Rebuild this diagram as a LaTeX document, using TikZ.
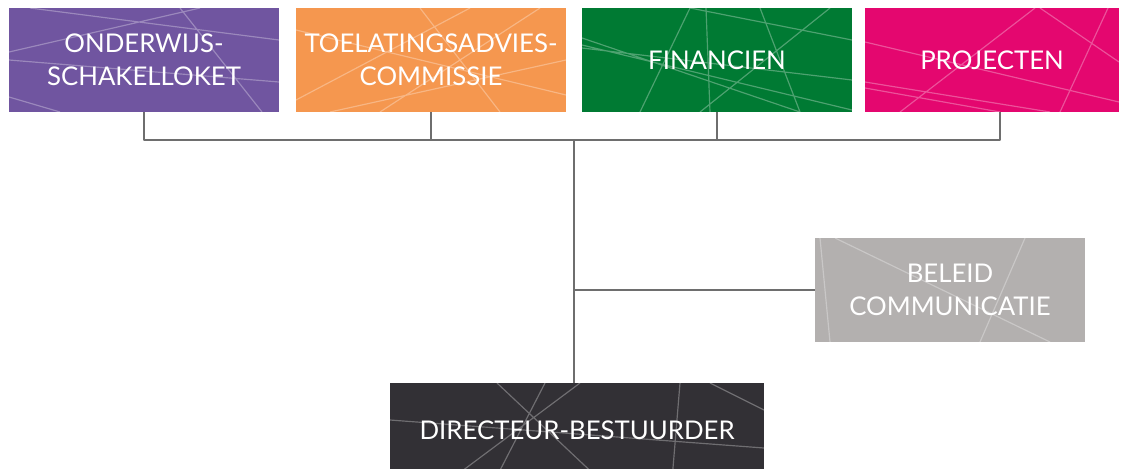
\documentclass[tikz,border=0pt]{standalone}
\usepackage{fontspec}
\setmainfont{Lato}
\usetikzlibrary{backgrounds}
\definecolor{paars}{HTML}{7055A0}
\definecolor{oranje}{HTML}{F5974F}
\definecolor{groen}{HTML}{007A33}
\definecolor{roze}{HTML}{E4076F}
\definecolor{grijs}{HTML}{B3B0AF}
\definecolor{donker}{HTML}{323035}
\definecolor{lijn}{HTML}{6E6E6E}
\begin{document}
\begin{tikzpicture}[x=0.03cm,y=-0.03cm,line join=round,
	box/.style={rectangle,inner sep=0pt,minimum width=270*0.03cm,minimum height=104*0.03cm,text=white,align=center,font=\fontsize{22}{28.5}\selectfont},
	conn/.style={draw=lijn,line width=1.7pt},
	deco/.style={white,opacity=.3,line width=1pt}]
	\useasboundingbox (0,0) rectangle (1123,468);
	\clip (0,0) rectangle (1123,468);
	\node[box] (onderwijs) at (144,60) {ONDERWIJS-\\SCHAKELLOKET};
	\node[box] (toelating) at (431,60) {TOELATINGSADVIES-\\COMMISSIE};
	\node[box] (financien) at (717,60) {FINANCIEN};
	\node[box,minimum width=254*0.03cm] (projecten) at (992,60) {PROJECTEN};
	\node[box] (beleid) at (950,290) {BELEID\\COMMUNICATIE};
	\node[box,minimum width=374*0.03cm,minimum height=94*0.03cm] (directeur) at (577,430) {DIRECTEUR-BESTUURDER};
	\coordinate (bus) at (574,140);
	\begin{scope}[on background layer]
		\fill[paars] (onderwijs.south west) rectangle (onderwijs.north east);
		\fill[oranje] (toelating.south west) rectangle (toelating.north east);
		\fill[groen] (financien.south west) rectangle (financien.north east);
		\fill[roze] (projecten.south west) rectangle (projecten.north east);
		\fill[grijs] (beleid.south west) rectangle (beleid.north east);
		\fill[donker] (directeur.south west) rectangle (directeur.north east);
		% lines on the boxes
		\begin{scope}
			\clip (onderwijs.south west) rectangle (onderwijs.north east);
			\draw[deco] (9,52)--(200,8) (30,8)--(279,40) (180,8)--(262,112) (9,97)--(60,112) (9,60)--(279,82);
		\end{scope}
		\begin{scope}
			\clip (toelating.south west) rectangle (toelating.north east);
			\draw[deco] (296,30)--(566,95) (420,8)--(500,112) (540,8)--(380,112) (296,100)--(470,8) (330,112)--(566,60);
		\end{scope}
		\begin{scope}
			\clip (financien.south west) rectangle (financien.north east);
			\draw[deco] (690,8)--(640,112) (706,8)--(710,112) (582,38)--(800,112) (582,48)--(852,80)
				(760,8)--(800,112) (830,8)--(700,112) (690,8)--(852,40) (582,45)--(852,110);
		\end{scope}
		\begin{scope}
			\clip (projecten.south west) rectangle (projecten.north east);
			\draw[deco] (1035,8)--(900,112) (1040,8)--(1119,62) (1108,8)--(1060,112) (865,42)--(1119,102) (865,82)--(1050,112) (865,88)--(1000,112);
		\end{scope}
		\begin{scope}
			\clip (beleid.south west) rectangle (beleid.north east);
			\draw[deco] (835,238)--(1050,342) (1025,238)--(980,342) (820,238)--(830,342);
		\end{scope}
		\begin{scope}
			\clip (directeur.south west) rectangle (directeur.north east);
			\draw[deco] (390,420)--(764,448) (497,383)--(600,480) (545,383)--(495,480) (580,383)--(450,480) (680,383)--(672,480) (710,383)--(764,410);
		\end{scope}
	\end{scope}
	% connectors
	\draw[conn] (onderwijs.south) -- (onderwijs.south |- bus) -- ([xshift=8*0.03cm]projecten.south |- bus) -- ([xshift=8*0.03cm]projecten.south);
	\draw[conn] (toelating.south) -- (toelating.south |- bus);
	\draw[conn] (financien.south) -- (financien.south |- bus);
	\draw[conn] (bus) -- (bus |- directeur.north);
	\draw[conn] (bus |- beleid.west) -- (beleid.west);
\end{tikzpicture}
\end{document}
